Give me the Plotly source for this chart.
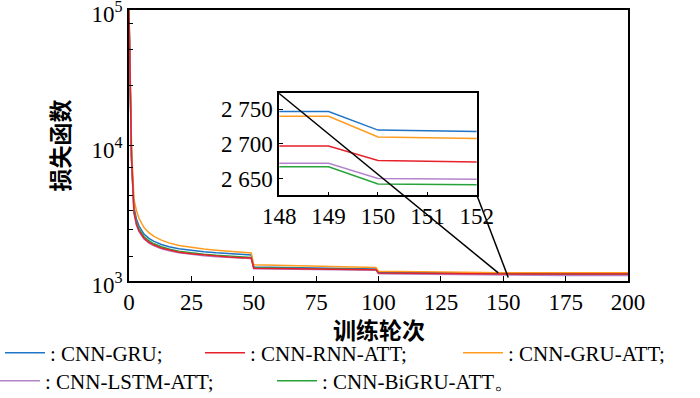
import math
import plotly.graph_objects as go

# ---------------- data ----------------
epochs = [0, 1, 2, 3, 4, 5, 6, 8, 10, 13, 16, 20, 25, 30, 35, 40, 45, 49,
          50, 60, 70, 80, 90, 99, 100, 110, 125, 149, 150, 175, 200]

loss_cnn_gru = [95000, 8500, 3500, 2850, 2550, 2350, 2220, 2060, 1960, 1860, 1790, 1730, 1680, 1645, 1615, 1590, 1570, 1555,
                1268, 1256, 1246, 1238, 1231, 1225, 1160, 1155, 1150, 1145, 1140, 1139, 1138]
loss_cnn_rnn_att = [100000, 8200, 3200, 2620, 2350, 2180, 2070, 1930, 1840, 1750, 1690, 1630, 1585, 1550, 1520, 1500, 1485, 1475,
                    1242, 1234, 1227, 1221, 1216, 1211, 1142, 1137, 1133, 1130, 1125, 1124, 1123]
loss_cnn_gru_att = [100000, 10000, 4000, 3300, 2900, 2650, 2480, 2270, 2130, 2000, 1910, 1830, 1765, 1720, 1685, 1655, 1630, 1610,
                    1315, 1300, 1288, 1278, 1268, 1258, 1180, 1172, 1165, 1155, 1150, 1148, 1147]
loss_cnn_lstm_att = [90000, 7800, 3150, 2580, 2310, 2150, 2040, 1900, 1815, 1730, 1670, 1615, 1570, 1535, 1508, 1488, 1472, 1462,
                     1232, 1224, 1217, 1211, 1206, 1201, 1128, 1122, 1116, 1108, 1100, 1098, 1097]
loss_cnn_bigru_att = [92000, 8000, 3300, 2700, 2420, 2250, 2130, 1980, 1880, 1790, 1720, 1660, 1610, 1575, 1545, 1520, 1500, 1490,
                      1250, 1240, 1231, 1224, 1218, 1212, 1140, 1135, 1130, 1125, 1118, 1117, 1116]

# inset (zoom on epochs 148-152)
inset_epochs = [148, 149, 150, 151, 152]
inset_cnn_gru = [2747, 2747, 2720, 2719, 2718]
inset_cnn_rnn_att = [2697, 2697, 2676, 2675, 2674]
inset_cnn_gru_att = [2740, 2740, 2710, 2709, 2708]
inset_cnn_lstm_att = [2672, 2672, 2650, 2649, 2649]
inset_cnn_bigru_att = [2667, 2667, 2642, 2641, 2641]

inset_ytickvals = [2650, 2700, 2750]
inset_yticktext = ["2 650", "2 700", "2 750"]
main_ytickvals = [1e3, 1e4, 1e5]
main_yticktext = ["10<sup>3</sup>", "10<sup>4</sup>", "10<sup>5</sup>"]
main_yminor = [1510, 2380, 3300, 4300, 6900, 27700, 51000, 79000]
main_xtickvals = [0, 25, 50, 75, 100, 125, 150, 175, 200]

x_title = "训练轮次"
y_title = "损失函数"
names = [": CNN-GRU;", ": CNN-RNN-ATT;", ": CNN-GRU-ATT;", ": CNN-LSTM-ATT;", ": CNN-BiGRU-ATT。"]
colors = ["#1f74c6", "#e6212b", "#ff9b1e", "#b484cc", "#27a33a"]

# zoom window shown by the connector lines (main-axis coordinates)
zoom_left = (148, 1146)
zoom_right = (152, 1062)

# ---------------- figure ----------------
SERIF = "Liberation Serif"
CJK = "Noto Sans CJK SC"
W, H = 700, 398
ML, MR, MT, MB = 129, 72, 10, 117
PW = W - ML - MR
PH = H - MT - MB
YR = [2.9995, 5.0005]

main_series = [loss_cnn_gru, loss_cnn_rnn_att, loss_cnn_gru_att, loss_cnn_lstm_att, loss_cnn_bigru_att]
inset_series = [inset_cnn_gru, inset_cnn_rnn_att, inset_cnn_gru_att, inset_cnn_lstm_att, inset_cnn_bigru_att]
legend_ids = ["legend", "legend2", "legend3", "legend4", "legend5"]

fig = go.Figure()
draw_order = [0, 2, 4, 3, 1]
for i in draw_order:
    fig.add_trace(go.Scatter(x=epochs, y=main_series[i], mode="lines", name=names[i],
                             line=dict(color=colors[i], width=1.5), legend=legend_ids[i]))
for i in draw_order:
    fig.add_trace(go.Scatter(x=inset_epochs, y=inset_series[i], mode="lines", showlegend=False,
                             line=dict(color=colors[i], width=1.5), xaxis="x2", yaxis="y2"))

inset_dom_x = [0.301, 0.697]
inset_dom_y = [0.317, 0.692]

axis_common = dict(showline=True, linecolor="black", linewidth=1.5, mirror=True,
                   showgrid=False, zeroline=False, ticks="inside", tickcolor="black",
                   ticklabeloverflow="allow", automargin=False,
                   tickfont=dict(family=SERIF, size=23, color="black"))
title_font = dict(family=CJK, size=23, color="black", weight="bold")

fig.update_layout(
    width=W, height=H,
    margin=dict(l=ML, r=MR, t=MT, b=MB, autoexpand=False),
    paper_bgcolor="white", plot_bgcolor="white",
    xaxis=dict(domain=[0, 1], range=[0, 200], tickmode="array", tickvals=main_xtickvals,
               ticklen=5, tickwidth=1.2, **axis_common),
    yaxis=dict(domain=[0, 1], type="log", range=YR, tickmode="array", tickvals=main_ytickvals,
               ticktext=main_yticktext, ticklen=5, tickwidth=1.2, ticklabelshift=4,
               minor=dict(tickmode="array", tickvals=main_yminor, ticks="inside", ticklen=4, tickcolor="black"),
               **axis_common),
    xaxis2=dict(domain=inset_dom_x, range=[148, 152], anchor="y2", tickmode="array",
                tickvals=inset_epochs, ticklen=3, **axis_common),
    yaxis2=dict(domain=inset_dom_y, range=[2626, 2773], anchor="x2", tickmode="array",
                tickvals=inset_ytickvals, ticktext=inset_yticktext, ticklen=4, **axis_common),
)

# axis titles (placed as annotations so they sit where the reference has them)
fig.add_annotation(text=x_title, xref="paper", yref="paper", x=0.5, y=(H - MB - 329) / PH,
                   xanchor="center", yanchor="middle", showarrow=False, font=title_font)
fig.add_annotation(text=y_title, xref="paper", yref="paper", x=(58 - ML) / PW, y=0.5,
                   xanchor="center", yanchor="middle", textangle=-90, showarrow=False, font=title_font)

# legends (one per entry so positions match the reference)
legend_pos = [(5, 353), (205, 353), (463, 353), (0, 381), (277, 381)]
for lid, (px, py) in zip(legend_ids, legend_pos):
    fig.update_layout({lid: dict(orientation="h", xref="paper", yref="container",
                                 x=(px - 5 - ML) / PW, y=1 - py / H, xanchor="left", yanchor="middle",
                                 bgcolor="rgba(0,0,0,0)", itemwidth=40,
                                 font=dict(family=SERIF, size=21, color="black"))})

# connector lines from inset corners to the zoomed window (paper coordinates)
def to_paper(x, y):
    return x / 200.0, (math.log10(y) - YR[0]) / (YR[1] - YR[0])

p1 = to_paper(*zoom_left)
p2 = to_paper(*zoom_right)
fig.add_shape(type="line", xref="paper", yref="paper", x0=inset_dom_x[0], y0=inset_dom_y[1],
              x1=p1[0], y1=p1[1], line=dict(color="black", width=1.5), layer="above")
fig.add_shape(type="line", xref="paper", yref="paper", x0=inset_dom_x[1], y0=inset_dom_y[0],
              x1=p2[0], y1=p2[1], line=dict(color="black", width=1.5), layer="above")

# the page's default 8px body margin would shift the whole figure; remove it
fig.write_html("out.html", config={"displayModeBar": False},
               post_script="document.body.style.margin='0';")
